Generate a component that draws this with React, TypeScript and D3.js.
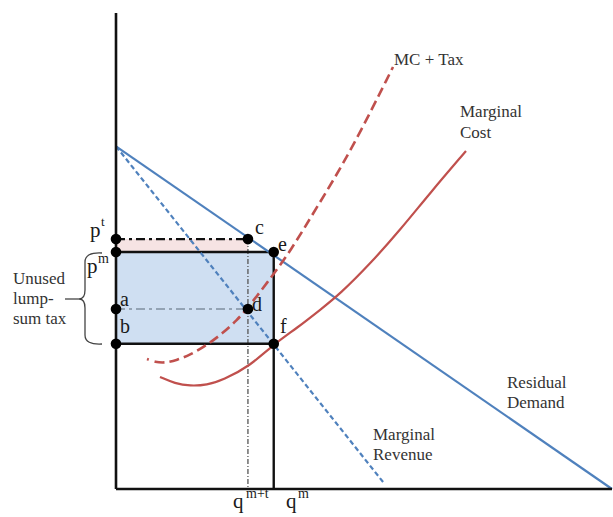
import React from "react";
import * as d3 from "d3";

// ---- data (quantity 0..100, price 0..100) ----
const demand = [
  { q: 0, p: 72 },
  { q: 100, p: 0 },
];
const marginalRevenue = [
  { q: 0, p: 72 },
  { q: 54.2, p: 1 },
];
const marginalCost = [
  { q: 8.87, p: 23.53 },
  { q: 11.9, p: 22.16 },
  { q: 14.92, p: 21.64 },
  { q: 18.35, p: 21.85 },
  { q: 21.57, p: 22.9 },
  { q: 27.02, p: 25.84 },
  { q: 31.75, p: 30.36 },
  { q: 36.49, p: 33.82 },
  { q: 41.13, p: 37.61 },
  { q: 45.16, p: 40.97 },
  { q: 51.21, p: 47.27 },
  { q: 57.26, p: 54.41 },
  { q: 63.31, p: 62.18 },
  { q: 70.56, p: 71.01 },
];
const mcPlusTax = [
  { q: 6.25, p: 27.31 },
  { q: 7.86, p: 26.68 },
  { q: 9.88, p: 26.47 },
  { q: 12.3, p: 27.1 },
  { q: 14.92, p: 28.15 },
  { q: 18.35, p: 30.25 },
  { q: 21.57, p: 32.77 },
  { q: 24.4, p: 35.5 },
  { q: 26.41, p: 37.82 },
  { q: 30.44, p: 43.28 },
  { q: 35.08, p: 49.79 },
  { q: 40.52, p: 59.24 },
  { q: 47.18, p: 70.59 },
  { q: 55.85, p: 88.66 },
];
const priceNames = ["pt", "pm", "a", "b"];
const priceValues = [52.5, 49.8, 37.8, 30.5];
const quantityNames = ["qmt", "qm"];
const quantityValues = [26.6, 31.8];

const W = 613;
const H = 517;
const BLUE = "#4f81bd";
const RED = "#c0504d";
const FONT = "'Liberation Serif', 'Times New Roman', serif";

export default function App() {
  const x = d3.scaleLinear().domain([0, 100]).range([116, 612]);
  const y = d3.scaleLinear().domain([0, 100]).range([489, 13]);
  const P: Record<string, number> = {};
  priceNames.forEach((n, i) => (P[n] = priceValues[i]));
  const Q: Record<string, number> = {};
  quantityNames.forEach((n, i) => (Q[n] = quantityValues[i]));

  const straight = d3
    .line<{ q: number; p: number }>()
    .x((d) => x(d.q))
    .y((d) => y(d.p));
  const smooth = d3
    .line<{ q: number; p: number }>()
    .x((d) => x(d.q))
    .y((d) => y(d.p))
    .curve(d3.curveBasis);

  const x0 = x(0);
  const y0 = y(0);
  const dots = [
    [0, P.pt],
    [0, P.pm],
    [0, P.a],
    [0, P.b],
    [Q.qmt, P.pt],
    [Q.qm, P.pm],
    [Q.qmt, P.a],
    [Q.qm, P.b],
  ];

  const txt = { fontFamily: FONT, fill: "#1a1a1a" } as const;
  const lbl = { fontFamily: FONT, fill: "#333", fontSize: 17 } as const;

  const dashTax = "2 6 " + Array(40).fill("10 5").join(" ");

  return (
    <svg
      width={W}
      height={H}
      style={{ position: "absolute", left: 0, top: 0, background: "#fff" }}
    >
      {/* pink band between pt and pm */}
      <rect
        x={x0}
        y={y(P.pt)}
        width={x(Q.qmt) - x0}
        height={y(P.pm) - y(P.pt)}
        fill="#f6e3e3"
      />
      {/* blue rectangle pm..b */}
      <rect
        x={x0}
        y={y(P.pm)}
        width={x(Q.qm) - x0}
        height={y(P.b) - y(P.pm)}
        fill="#cfdff2"
      />

      {/* dash-dot guide lines */}
      <line
        x1={x0}
        x2={x(Q.qmt)}
        y1={y(P.pt)}
        y2={y(P.pt)}
        stroke="#111"
        strokeWidth={2.2}
        strokeDasharray="9 4 3 4"
      />
      <line
        x1={x0}
        x2={x(Q.qmt)}
        y1={y(P.a)}
        y2={y(P.a)}
        stroke="#8090a0"
        strokeWidth={1.6}
        strokeDasharray="9 4 3 4"
      />
      <line
        x1={x(Q.qmt)}
        x2={x(Q.qmt)}
        y1={y(P.pt)}
        y2={y0}
        stroke="#555"
        strokeWidth={1.3}
        strokeDasharray="5 2 1 2"
      />

      {/* rectangle outline and qm vertical */}
      <line x1={x0} x2={x(Q.qm)} y1={y(P.pm)} y2={y(P.pm)} stroke="#111" strokeWidth={2.4} />
      <line x1={x0} x2={x(Q.qm)} y1={y(P.b)} y2={y(P.b)} stroke="#111" strokeWidth={2.4} />
      <line x1={x(Q.qm)} x2={x(Q.qm)} y1={y(P.pm)} y2={y0} stroke="#111" strokeWidth={2.4} />

      {/* curves */}
      <path d={straight(demand) || ""} fill="none" stroke={BLUE} strokeWidth={2.2} />
      <path
        d={straight(marginalRevenue) || ""}
        fill="none"
        stroke={BLUE}
        strokeWidth={2.2}
        strokeDasharray="5 3"
      />
      <path d={smooth(marginalCost) || ""} fill="none" stroke={RED} strokeWidth={2.2} />
      <path
        d={smooth(mcPlusTax) || ""}
        fill="none"
        stroke={RED}
        strokeWidth={2.6}
        strokeDasharray={dashTax}
      />

      {/* axes */}
      <line x1={x0} x2={x0} y1={y(100)} y2={y0} stroke="#111" strokeWidth={2.6} />
      <line x1={x0} x2={x(100)} y1={y0} y2={y0} stroke="#111" strokeWidth={2.6} />

      {/* dots */}
      {dots.map(([q, p], i) => (
        <circle key={i} cx={x(q)} cy={y(p)} r={5.3} fill="#000" />
      ))}

      {/* brace */}
      <path
        d="M102 253 Q85 252 85 262 L85 290 Q85 299 79 299 Q85 299 85 308 L85 335 Q85 345 102 344"
        fill="none"
        stroke="#444"
        strokeWidth={1.3}
      />
      <line x1={65} x2={79} y1={299} y2={299} stroke="#444" strokeWidth={1.3} />
      <text {...lbl} x={13} y={284}>Unused</text>
      <text {...lbl} x={13} y={304}>lump-</text>
      <text {...lbl} x={13} y={324}>sum tax</text>

      {/* price labels */}
      <text {...txt} x={90} y={237} fontSize={21}>p</text>
      <text {...txt} x={101} y={226} fontSize={13}>t</text>
      <text {...txt} x={87} y={273} fontSize={21}>p</text>
      <text {...txt} x={98} y={263} fontSize={14}>m</text>

      {/* point labels */}
      <text {...txt} x={120} y={306} fontSize={20}>a</text>
      <text {...txt} x={120} y={333} fontSize={20}>b</text>
      <text {...txt} x={255} y={234} fontSize={20}>c</text>
      <text {...txt} x={278} y={251} fontSize={20}>e</text>
      <text {...txt} x={252} y={311} fontSize={20}>d</text>
      <text {...txt} x={280} y={333} fontSize={20}>f</text>

      {/* quantity labels */}
      <text {...txt} x={233} y={508} fontSize={21}>q</text>
      <text {...txt} x={246} y={498} fontSize={14}>m+t</text>
      <text {...txt} x={286} y={508} fontSize={21}>q</text>
      <text {...txt} x={298} y={498} fontSize={14}>m</text>

      {/* curve labels */}
      <text {...lbl} x={394} y={65}>MC + Tax</text>
      <text {...lbl} x={460} y={117}>Marginal</text>
      <text {...lbl} x={460} y={138}>Cost</text>
      <text {...lbl} x={507} y={388}>Residual</text>
      <text {...lbl} x={507} y={408}>Demand</text>
      <text {...lbl} x={373} y={440}>Marginal</text>
      <text {...lbl} x={373} y={460}>Revenue</text>
    </svg>
  );
}
